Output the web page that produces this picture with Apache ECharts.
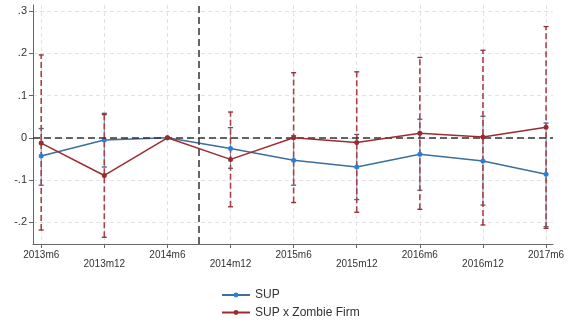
<!DOCTYPE html>
<html>
<head>
<meta charset="utf-8">
<script src="https://cdn.jsdelivr.net/npm/echarts@6/dist/echarts.min.js"></script>
<style>
  html, body { margin: 0; padding: 0; background: #fff; }
  #chart { width: 568px; height: 322px; }
</style>
</head>
<body>
<div id="chart"></div>
<script>
// Event-study estimates by half-year period (2014m6 is the omitted reference period)
const periods  = ['2013m6', '2013m12', '2014m6', '2014m12', '2015m6', '2015m12', '2016m6', '2016m12', '2017m6'];
const supCoef  = [-0.043, -0.005, 0, -0.025, -0.053, -0.069, -0.039, -0.055, -0.086];
const supLow   = [-0.112, -0.069, 0, -0.072, -0.112, -0.146, -0.124, -0.159, -0.210];
const supHigh  = [ 0.022,  0.058, 0,  0.024,  0.005,  0.008,  0.044,  0.051,  0.035];
const zomCoef  = [-0.0125, -0.089, 0, -0.051, 0.000, -0.011, 0.011, 0.002, 0.025];
const zomLow   = [-0.218, -0.235, 0, -0.163, -0.153, -0.176, -0.169, -0.206, -0.214];
const zomHigh  = [ 0.196,  0.055, 0,  0.061,  0.154,  0.156,  0.190,  0.207,  0.263];
const yTicks      = [-0.2, -0.1, 0, 0.1, 0.2, 0.3];
const yTickLabels = ['-.2', '-.1', '0', '.1', '.2', '.3'];
const eventLine = 2.5; // policy shock between 2014m6 and 2014m12

const FONT = "'Liberation Sans', Arial, Helvetica, sans-serif";
const AXIS_COLOR = '#666';
const GRID_COLOR = '#e3e3e3';

const blueLine = '#3c6e9e', blueDot = '#2b7fd9', blueCI = '#6f8aa6', blueCap = '#4a5d70';
const redLine = '#9e2b31', redDot = '#9a2a30', redCI = '#a8434a', redCap = '#8e2a30';

const periodIdx = periods.map((p, i) => i);

// Range-cap error bars drawn through the axis scales
function ciSeries(name, lows, highs, stroke, capStroke, width, dash, z) {
  return {
    type: 'custom',
    name: name,
    silent: true,
    z: z,
    encode: { x: 0, y: [1, 2] },
    data: periods.map((p, i) => [i, lows[i], highs[i]]),
    renderItem: function (params, api) {
      const x = api.value(0), lo = api.value(1), hi = api.value(2);
      if (lo === hi) return null;
      const a = api.coord([x, lo]);
      const b = api.coord([x, hi]);
      const hw = 2.5;
      return {
        type: 'group',
        children: [
          { type: 'line', shape: { x1: a[0], y1: a[1], x2: b[0], y2: b[1] },
            style: { stroke: stroke, lineWidth: width, lineDash: dash } },
          { type: 'line', shape: { x1: a[0] - hw, y1: a[1], x2: a[0] + hw, y2: a[1] },
            style: { stroke: capStroke, lineWidth: 1.3 } },
          { type: 'line', shape: { x1: b[0] - hw, y1: b[1], x2: b[0] + hw, y2: b[1] },
            style: { stroke: capStroke, lineWidth: 1.3 } }
        ]
      };
    }
  };
}

const chart = echarts.init(document.getElementById('chart'), null, { renderer: 'canvas' });

chart.setOption({
  animation: false,
  backgroundColor: '#fff',
  textStyle: { fontFamily: FONT },
  grid: { left: 33, right: 15, top: 5, bottom: 78, containLabel: false },
  legend: {
    data: ['SUP', 'SUP x Zombie Firm'],
    orient: 'vertical',
    left: 221,
    top: 289,
    padding: 0,
    itemWidth: 28,
    itemHeight: 6,
    itemGap: 5.5,
    textStyle: { fontSize: 12, color: '#333', fontFamily: FONT }
  },
  xAxis: {
    type: 'value',
    min: -0.13,
    max: 8.11,
    axisLine: { show: true, onZero: false, lineStyle: { color: AXIS_COLOR, width: 1 } },
    axisTick: { show: true, length: 4, customValues: periodIdx, lineStyle: { color: AXIS_COLOR } },
    splitLine: { show: true, lineStyle: { color: GRID_COLOR, type: [4, 3], width: 1 } },
    axisLabel: {
      customValues: periodIdx,
      margin: 6,
      color: '#333',
      fontSize: 10,
      fontFamily: FONT,
      formatter: function (v) {
        const i = Math.round(v);
        return (i % 2 ? '{lo|' : '{hi|') + periods[i] + '}';
      },
      rich: {
        hi: { fontSize: 10, fontFamily: FONT, color: '#333' },
        lo: { fontSize: 10, fontFamily: FONT, color: '#333', padding: [9, 0, 0, 0] }
      }
    }
  },
  yAxis: {
    type: 'value',
    min: -0.251,
    max: 0.314,
    axisLine: { show: true, onZero: false, lineStyle: { color: AXIS_COLOR, width: 1 } },
    axisTick: { show: true, length: 4, customValues: yTicks, lineStyle: { color: AXIS_COLOR } },
    splitLine: { show: true, lineStyle: { color: GRID_COLOR, type: [4, 3], width: 1 } },
    axisLabel: {
      customValues: yTicks,
      margin: 6,
      color: '#333',
      fontSize: 11,
      fontFamily: FONT,
      formatter: function (v) {
        const k = yTicks.findIndex(t => Math.abs(t - v) < 1e-9);
        return k >= 0 ? yTickLabels[k] : '';
      }
    }
  },
  series: [
    ciSeries('SUP 95% CI', supLow, supHigh, blueCI, blueCap, 1, null, 2),
    ciSeries('SUP x Zombie Firm 95% CI', zomLow, zomHigh, redCI, redCap, 1.6, [6, 3], 3),
    {
      type: 'line',
      name: 'SUP',
      z: 4,
      data: periods.map((p, i) => [i, supCoef[i]]),
      symbol: 'circle',
      symbolSize: 5,
      lineStyle: { color: blueLine, width: 1.5 },
      itemStyle: { color: blueDot },
      markLine: {
        silent: true,
        symbol: 'none',
        label: { show: false },
        lineStyle: { color: '#333', width: 1.5, type: [7, 4] },
        data: [{ yAxis: 0 }, { xAxis: eventLine }]
      }
    },
    {
      type: 'line',
      name: 'SUP x Zombie Firm',
      z: 5,
      data: periods.map((p, i) => [i, zomCoef[i]]),
      symbol: 'circle',
      symbolSize: 5,
      lineStyle: { color: redLine, width: 1.5 },
      itemStyle: { color: redDot }
    }
  ]
});
</script>
</body>
</html>
